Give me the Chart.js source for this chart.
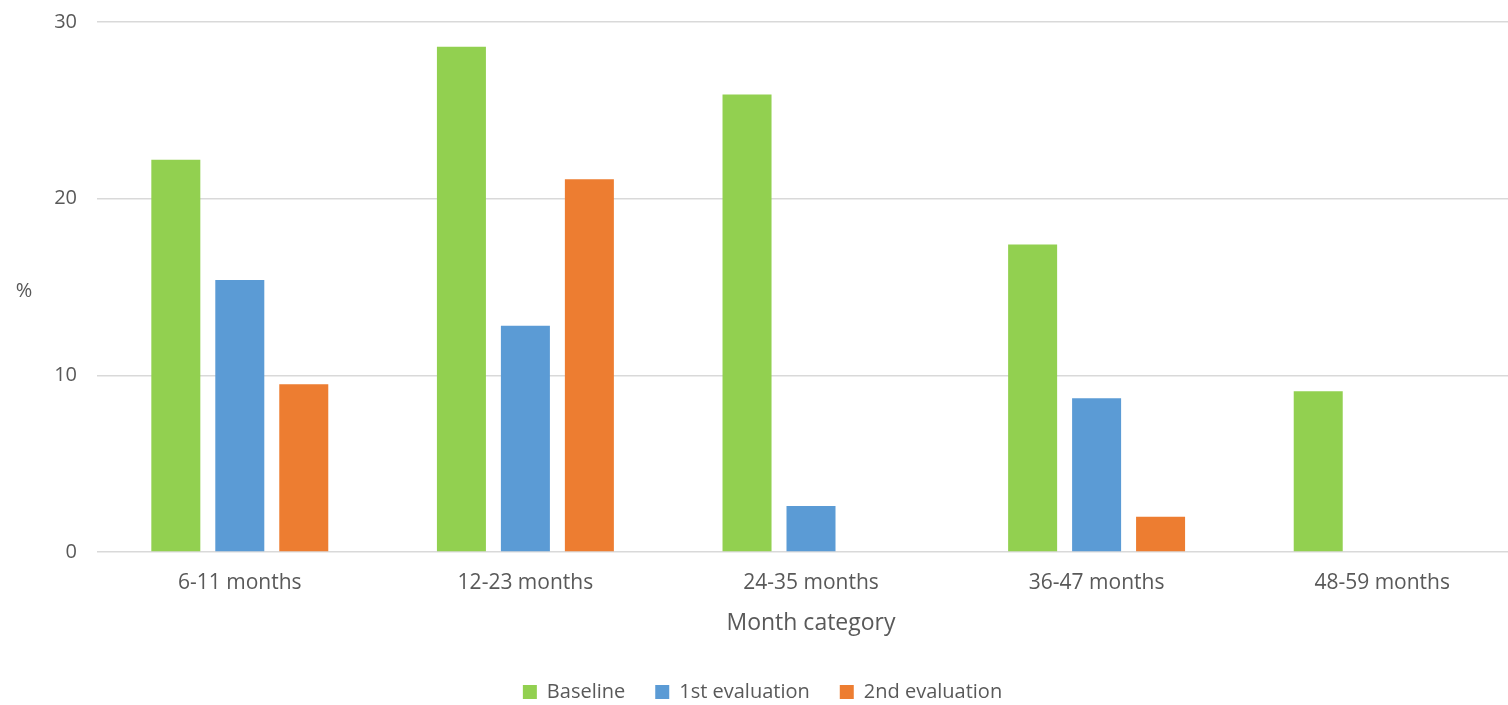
<!DOCTYPE html>
<html>
<head>
<meta charset="utf-8">
<script src="https://cdn.jsdelivr.net/npm/chart.js@4"></script>
<style>
  html, body { margin: 0; padding: 0; background: #fff; overflow: hidden; }
  #wrap { width: 1525px; height: 705px; }
</style>
</head>
<body>
<div id="wrap"><canvas id="grafica"></canvas></div>
<script>
const categorias = ['6-11 months', '12-23 months', '24-35 months', '36-47 months', '48-59 months'];
const baseline = [22.2, 28.6, 25.9, 17.4, 9.1];
const evaluacion1 = [15.4, 12.8, 2.6, 8.7, 0];
const evaluacion2 = [9.5, 21.1, 0, 2.0, 0];
const ticksY = [0, 10, 20, 30];

const gris = '#595959';
const fuente = "'Open Sans', sans-serif";

// draws the "%" label horizontally, like the original
const etiquetaY = {
    id: 'etiquetaY',
    afterDraw(chart) {
        const c = chart.ctx;
        const y = chart.scales.y;
        c.save();
        c.fillStyle = gris;
        c.font = "20px " + fuente;
        c.textAlign = 'center';
        c.textBaseline = 'middle';
        c.fillText('%', 24, (y.top + y.bottom) / 2 + 4);
        c.restore();
    }
};

// legend keeps wide gaps between items but a short box
const ajusteLeyenda = {
    id: 'ajusteLeyenda',
    beforeLayout(chart) {
        const leyenda = chart.legend;
        if (leyenda._fitOrig) return;
        leyenda._fitOrig = leyenda.fit;
        leyenda.fit = function() {
            this._fitOrig();
            this.height = 53;
        };
    }
};

new Chart(document.getElementById('grafica'), {
    type: 'bar',
    data: {
        labels: categorias,
        datasets: [
            { label: 'Baseline', data: baseline, backgroundColor: '#92d050' },
            { label: '1st evaluation', data: evaluacion1, backgroundColor: '#5b9bd5' },
            { label: '2nd evaluation', data: evaluacion2, backgroundColor: '#ed7d31' }
        ]
    },
    options: {
        responsive: true,
        maintainAspectRatio: false,
        animation: false,
        datasets: { bar: { categoryPercentage: 0.672, barPercentage: 0.766 } },
        layout: { padding: { top: 22, left: 0, right: 0, bottom: 0 } },
        plugins: {
            legend: {
                position: 'bottom',
                labels: {
                    color: gris,
                    font: { family: fuente, size: 20 },
                    boxWidth: 14,
                    boxHeight: 14,
                    padding: 30
                }
            },
            tooltip: { enabled: false }
        },
        scales: {
            x: {
                afterFit(scale) { scale.height = 100; },
                grid: { display: false, drawTicks: false },
                border: { display: false },
                ticks: { color: gris, font: { family: fuente, size: 21 }, padding: 18, maxRotation: 0 },
                title: { display: true, text: 'Month category', color: gris,
                         font: { family: fuente, size: 23 }, padding: { top: 4, bottom: 15 } }
            },
            y: {
                min: 0,
                max: 30,
                afterBuildTicks(scale) { scale.ticks = ticksY.map(v => ({ value: v })); },
                afterFit(scale) {
                    scale.width = 97;
                    scale.paddingTop = 0;
                    scale.paddingBottom = 0;
                },
                grid: { color: '#d9d9d9', lineWidth: 1.5, drawTicks: false },
                border: { display: false },
                ticks: { color: gris, font: { family: fuente, size: 20 }, padding: 20 }
            }
        }
    },
    plugins: [etiquetaY, ajusteLeyenda]
});
</script>
</body>
</html>
